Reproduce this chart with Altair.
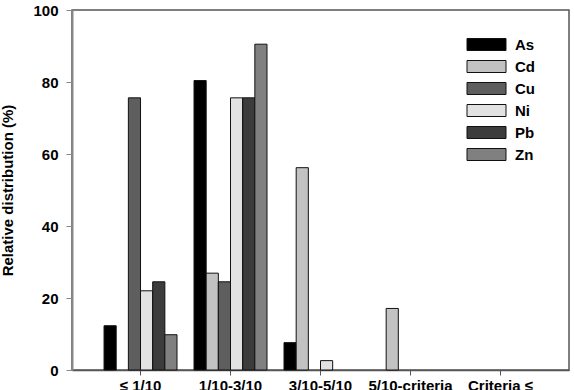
import altair as alt
import pandas as pd

categories = ["≤ 1/10", "1/10-3/10", "3/10-5/10", "5/10-criteria", "Criteria ≤"]
metals = ["As", "Cd", "Cu", "Ni", "Pb", "Zn"]
colors = ["#000000", "#c2c2c2", "#5e5e5e", "#e2e2e2", "#3c3c3c", "#808080"]

As = [12.3, 80.4, 7.6, 0, 0]
Cd = [0, 26.9, 56.2, 17.1, 0]
Cu = [75.6, 24.5, 0, 0, 0]
Ni = [22.0, 75.6, 2.6, 0, 0]
Pb = [24.5, 75.6, 0, 0, 0]
Zn = [9.8, 90.5, 0, 0, 0]

series = {"As": As, "Cd": Cd, "Cu": Cu, "Ni": Ni, "Pb": Pb, "Zn": Zn}
rows = []
for m in metals:
    for c, v in zip(categories, series[m]):
        rows.append({"category": c, "metal": m, "value": v})
df = pd.DataFrame(rows)

font = "Liberation Sans"

chart = alt.Chart(df).transform_filter("datum.value > 0").mark_bar(stroke="#111111", strokeWidth=1).encode(
    x=alt.X("category:N", sort=categories,
            scale=alt.Scale(domain=categories, paddingInner=0.189, paddingOuter=0.356),
            axis=alt.Axis(title=None, labelAngle=0, labelFontSize=15, labelFontWeight="bold",
                          labelFont=font, labelColor="#000", labelPadding=3,
                          tickSize=5, tickColor="#555", domainColor="#555", domainWidth=1.5)),
    xOffset=alt.XOffset("metal:N", sort=metals,
                        scale=alt.Scale(domain=metals, paddingInner=0, paddingOuter=0)),
    y=alt.Y("value:Q", scale=alt.Scale(domain=[0, 100], nice=False),
            axis=alt.Axis(title="Relative distribution (%)", values=[0, 20, 40, 60, 80, 100],
                          grid=False, labelFontSize=15, labelFontWeight="bold", labelFont=font,
                          labelColor="#000", labelPadding=8, tickSize=6, tickColor="#888",
                          domainColor="#888", domainWidth=2, titleFont=font, titleFontSize=15,
                          titleFontWeight="bold", titleColor="#000", titlePadding=17)),
    color=alt.Color("metal:N", sort=metals,
                    scale=alt.Scale(domain=metals, range=colors),
                    legend=alt.Legend(title=None, orient="none", legendX=407, legendY=27,
                                      symbolType="M-3.25,-1H3.25V1H-3.25Z", symbolSize=144,
                                      symbolStrokeColor="#111111", symbolStrokeWidth=1,
                                      symbolOpacity=1,
                                      labelFont=font, labelFontSize=15, labelFontWeight="bold",
                                      labelColor="#000", labelOffset=21, rowPadding=5)),
).properties(
    width=497, height=360,
    autosize=alt.AutoSizeParams(type="none"),
    padding={"left": 72, "top": 10, "right": 5, "bottom": 30},
).configure_view(
    stroke="#555", strokeWidth=1.5
)

chart.save("out.html", embed_options={"renderer": "svg", "actions": False})
